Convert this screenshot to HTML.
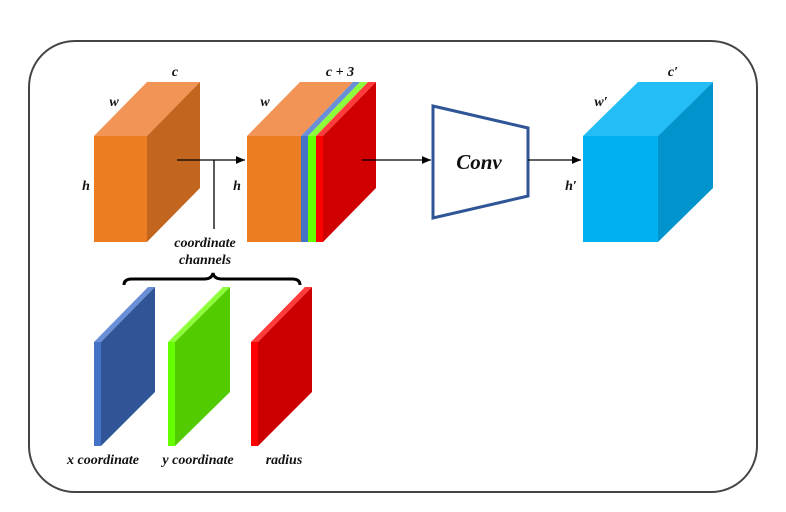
<!DOCTYPE html>
<html><head><style>body{margin:0;background:#fff}svg{display:block}text{font-family:"Liberation Serif",serif;font-style:italic;font-weight:bold;fill:#111}</style></head><body>
<svg width="786" height="512" viewBox="0 0 786 512" xmlns="http://www.w3.org/2000/svg">
<defs><marker id="a" markerWidth="8" markerHeight="8" refX="7" refY="4" orient="auto"><path d="M0,1 L7,4 L0,7 z" fill="#000"/></marker></defs>
<rect x="29" y="41" width="728" height="451" rx="46" fill="none" stroke="#444" stroke-width="2"/>
<!-- box1 -->
<polygon points="94,136 147,136 200,82 147,82" fill="#f19455"/>
<polygon points="147,136 200,82 200,188 147,242" fill="#c2651f"/>
<rect x="94" y="136" width="53" height="106" fill="#ed7d23"/>
<!-- box2 -->
<polygon points="247,136 301,136 353,82 300,82" fill="#f19455"/>
<rect x="247" y="136" width="54" height="106" fill="#ed7d23"/>
<polygon points="301,136 308,136 360,82 353,82" fill="#6a8fd6"/>
<rect x="301" y="136" width="7" height="106" fill="#4472c4"/>
<polygon points="308,136 316,136 368,82 360,82" fill="#8dff3a"/>
<rect x="308" y="136" width="8" height="106" fill="#66ff00"/>
<polygon points="316,136 323,136 376,82 368,82" fill="#ff3b3b"/>
<rect x="316" y="136" width="7" height="106" fill="#ff0000"/>
<polygon points="323,136 376,82 376,188 323,242" fill="#d10000"/>
<!-- conv -->
<polygon points="433,106 528,128 528,196 433,218" fill="#fff" stroke="#2f5597" stroke-width="3"/>
<text x="479" y="169" font-size="21" text-anchor="middle">Conv</text>
<!-- box3 -->
<polygon points="583,136 658,136 713,82 638,82" fill="#24bdf5"/>
<polygon points="658,136 713,82 713,188 658,242" fill="#0093cc"/>
<rect x="583" y="136" width="75" height="106" fill="#00b0f0"/>
<!-- arrows -->
<g stroke="#000" stroke-width="1.3" fill="none">
<line x1="177" y1="160" x2="245" y2="160" marker-end="url(#a)"/>
<line x1="214" y1="160" x2="214" y2="229"/>
<line x1="362" y1="160" x2="431" y2="160" marker-end="url(#a)"/>
<line x1="528" y1="160" x2="581" y2="160" marker-end="url(#a)"/>
<path d="M124,285 Q124,279 132,279 L204,279 Q212,279 213,273 Q214,279 222,279 L292,279 Q300,279 300,285" stroke-width="3"/>
</g>
<!-- slabs -->
<polygon points="94,342 101,342 155,287 148,287" fill="#6a8fd6"/>
<polygon points="101,342 155,287 155,392 101,446" fill="#2f5597"/>
<rect x="94" y="342" width="7" height="104" fill="#4472c4"/>
<polygon points="168,342 175,342 230,287 223,287" fill="#8dff3a"/>
<polygon points="175,342 230,287 230,392 175,446" fill="#52cc00"/>
<rect x="168" y="342" width="7" height="104" fill="#66ff00"/>
<polygon points="251,342 258,342 312,287 305,287" fill="#ff3b3b"/>
<polygon points="258,342 312,287 312,392 258,446" fill="#cc0000"/>
<rect x="251" y="342" width="7" height="104" fill="#ff0000"/>
<!-- labels -->
<g font-size="14">
<text x="175" y="76" text-anchor="middle">c</text>
<text x="114" y="106" text-anchor="middle">w</text>
<text x="86" y="190" text-anchor="middle">h</text>
<text x="265" y="106" text-anchor="middle">w</text>
<text x="340" y="76" text-anchor="middle">c + 3</text>
<text x="237" y="190" text-anchor="middle">h</text>
<text x="601" y="106" text-anchor="middle">w′</text>
<text x="673" y="76" text-anchor="middle">c′</text>
<text x="571" y="190" text-anchor="middle">h′</text>
<text x="205" y="247" text-anchor="middle">coordinate</text>
<text x="205" y="264" text-anchor="middle">channels</text>
<text x="103" y="464" text-anchor="middle">x coordinate</text>
<text x="198" y="464" text-anchor="middle">y coordinate</text>
<text x="284" y="464" text-anchor="middle">radius</text>
</g>
</svg>
</body></html>
